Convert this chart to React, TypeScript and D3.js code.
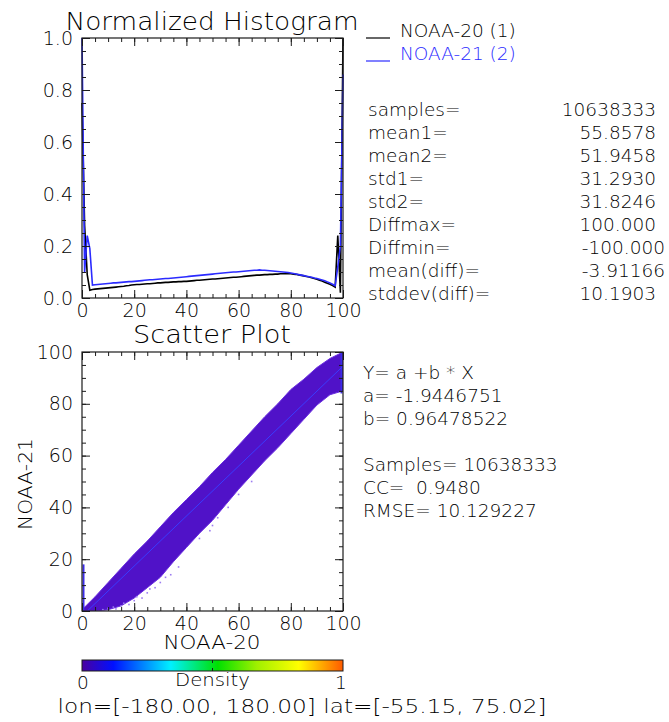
import React, { useEffect, useRef } from 'react';
import * as d3 from 'd3';

// Normalized histogram, one value per 1% bin (0..100)
const noaa20Hist = [
  0.75, 0.28, 0.09, 0.03, 0.033, 0.034, 0.035, 0.036, 0.037, 0.038,
  0.039, 0.040, 0.041, 0.042, 0.043, 0.044, 0.045, 0.047, 0.048, 0.050,
  0.051, 0.052, 0.052, 0.053, 0.054, 0.055, 0.055, 0.056, 0.057, 0.058,
  0.058, 0.059, 0.060, 0.060, 0.061, 0.062, 0.062, 0.063, 0.063, 0.064,
  0.064, 0.065, 0.066, 0.067, 0.068, 0.068, 0.069, 0.070, 0.071, 0.072,
  0.073, 0.073, 0.074, 0.075, 0.076, 0.077, 0.078, 0.079, 0.080, 0.080,
  0.081, 0.082, 0.083, 0.084, 0.085, 0.086, 0.087, 0.088, 0.088, 0.089,
  0.090, 0.090, 0.091, 0.091, 0.092, 0.092, 0.093, 0.093, 0.093, 0.093,
  0.093, 0.092, 0.091, 0.089, 0.087, 0.085, 0.083, 0.081, 0.078, 0.075,
  0.072, 0.068, 0.065, 0.061, 0.057, 0.053, 0.048, 0.042, 0.24, 0.02,
  1.0
];
const noaa21Hist = [
  1.0, 0.10, 0.24, 0.19, 0.050, 0.051, 0.052, 0.053, 0.054, 0.055,
  0.056, 0.057, 0.058, 0.058, 0.059, 0.060, 0.061, 0.062, 0.063, 0.063,
  0.064, 0.065, 0.066, 0.067, 0.068, 0.069, 0.070, 0.070, 0.071, 0.072,
  0.073, 0.074, 0.075, 0.075, 0.076, 0.077, 0.078, 0.079, 0.080, 0.081,
  0.082, 0.083, 0.084, 0.085, 0.086, 0.087, 0.088, 0.089, 0.090, 0.091,
  0.092, 0.093, 0.094, 0.095, 0.096, 0.097, 0.098, 0.099, 0.100, 0.100,
  0.101, 0.102, 0.103, 0.104, 0.105, 0.106, 0.107, 0.107, 0.108, 0.107,
  0.107, 0.106, 0.105, 0.104, 0.103, 0.102, 0.101, 0.100, 0.099, 0.098,
  0.096, 0.094, 0.092, 0.090, 0.088, 0.086, 0.084, 0.082, 0.080, 0.077,
  0.075, 0.072, 0.069, 0.066, 0.062, 0.058, 0.053, 0.047, 0.12, 0.20,
  0.86
];

const legendLabels = ['NOAA-20 (1)', 'NOAA-21 (2)'];
const legendColors = ['#000000', '#2b2bff'];

const statLabels = ['samples=', 'mean1=', 'mean2=', 'std1=', 'std2=', 'Diffmax=', 'Diffmin=', 'mean(diff)=', 'stddev(diff)='];
const statValues = ['10638333', '55.8578', '51.9458', '31.2930', '31.8246', '100.000', '-100.000', '-3.91166', '10.1903'];

// scatter density band (edges of the point cloud)
const bandX = [0, 5, 10, 15, 20, 25, 30, 35, 40, 45, 50, 55, 60, 65, 70, 75, 80, 85, 90, 95, 100];
const bandUpper = [0.5, 5.5, 11, 16.5, 22, 27, 32.5, 38, 43, 48, 53.5, 58.5, 64, 69.5, 75, 80, 85.5, 89.5, 94, 97.5, 100];
const bandLower = [0, 0, 0.5, 2, 5, 9, 13, 19, 24.5, 30, 35, 41, 47, 52.5, 58, 63, 68.5, 74, 79.5, 83.5, 85];
const outlierX = [8, 10, 12, 13, 15, 16, 18, 20, 21, 23, 25, 26, 28, 30, 32, 34, 37, 45, 49, 50, 52, 56, 60, 65];
const outlierY = [0.5, 1, 1.5, 0.8, 2, 3, 2.5, 4, 5.5, 5, 7, 8.5, 9, 11, 13, 14, 17, 28, 31, 33, 36, 40, 45, 50];
// points piled on the frame edges (x=0 and x=100 columns)
const edgeX = [0, 100];
const edgeFrom = [0, 84];
const edgeTo = [18, 100];

const fitA = -1.9446751;
const fitB = 0.96478522;
const fitLabels = ['Y= a +b * X', 'a= -1.9446751', 'b= 0.96478522', '', 'Samples= 10638333', 'CC=  0.9480', 'RMSE= 10.129227'];

const densityStops = [0, 0.12, 0.34, 0.52, 0.67, 0.83, 1];
const densityColors = ['#4a00a0', '#0010ff', '#00f0ff', '#00e000', '#a0f000', '#ffff00', '#ff5a00'];

const lonLatLabel = 'lon=[-180.00, 180.00] lat=[-55.15, 75.02]';

const font = '"DejaVu Sans", sans-serif';
const weight = 300;
const ink = '#000000';

function frame(g: any, x: any, y: any, xMajor: number[], xMinor: number[], yMajor: number[], yMinor: number[], yFmt: (d: number) => string) {
  const [x0, x1] = x.range();
  const [y0, y1] = y.range();
  const style = (sel: any) => {
    sel.select('.domain').remove();
    sel.selectAll('line').attr('stroke', '#1c1c1c').attr('stroke-width', 1);
    sel.selectAll('text').attr('font-family', font).attr('font-weight', weight)
      .attr('font-size', 19).attr('fill', ink);
  };
  // bottom with labels
  g.append('g').attr('transform', `translate(0,${y0})`)
    .call(d3.axisBottom(x).tickValues(xMajor).tickSize(-8).tickSizeOuter(0).tickPadding(6))
    .call(style);
  g.append('g').attr('transform', `translate(0,${y0})`)
    .call(d3.axisBottom(x).tickValues(xMinor).tickSize(-4).tickSizeOuter(0).tickFormat(() => ''))
    .call(style);
  // top
  g.append('g').attr('transform', `translate(0,${y1})`)
    .call(d3.axisTop(x).tickValues(xMajor).tickSize(-8).tickSizeOuter(0).tickFormat(() => ''))
    .call(style);
  g.append('g').attr('transform', `translate(0,${y1})`)
    .call(d3.axisTop(x).tickValues(xMinor).tickSize(-4).tickSizeOuter(0).tickFormat(() => ''))
    .call(style);
  // left with labels
  g.append('g').attr('transform', `translate(${x0},0)`)
    .call(d3.axisLeft(y).tickValues(yMajor).tickSize(-8).tickSizeOuter(0).tickPadding(9).tickFormat(yFmt as any))
    .call(style);
  g.append('g').attr('transform', `translate(${x0},0)`)
    .call(d3.axisLeft(y).tickValues(yMinor).tickSize(-4).tickSizeOuter(0).tickFormat(() => ''))
    .call(style);
  // right
  g.append('g').attr('transform', `translate(${x1},0)`)
    .call(d3.axisRight(y).tickValues(yMajor).tickSize(-8).tickSizeOuter(0).tickFormat(() => ''))
    .call(style);
  g.append('g').attr('transform', `translate(${x1},0)`)
    .call(d3.axisRight(y).tickValues(yMinor).tickSize(-4).tickSizeOuter(0).tickFormat(() => ''))
    .call(style);
  g.append('rect')
    .attr('x', x0).attr('y', y1)
    .attr('width', x1 - x0).attr('height', y0 - y1)
    .attr('fill', 'none').attr('stroke', '#1c1c1c').attr('stroke-width', 1.2);
}

const App: React.FC = () => {
  const svgRef = useRef<SVGSVGElement>(null);

  useEffect(() => {
    if (!svgRef.current) return;
    const svg = d3.select(svgRef.current);
    svg.selectAll('*').remove();
    const defs = svg.append('defs');

    const text = (g: any, str: string, x: number, y: number, size: number, opts: any = {}) => {
      const t = g.append('text')
        .attr('x', x).attr('y', y)
        .attr('font-family', font).attr('font-size', size)
        .attr('font-weight', weight)
        .attr('fill', opts.fill || ink)
        .attr('text-anchor', opts.anchor || 'start')
        .style('white-space', 'pre')
        .text(str);
      if (opts.len) t.attr('textLength', opts.len).attr('lengthAdjust', 'spacingAndGlyphs');
      if (opts.rotate) t.attr('transform', `rotate(${opts.rotate},${x},${y})`);
      return t;
    };

    // ---------- histogram ----------
    const hx = d3.scaleLinear().domain([0, 100]).range([82, 343]);
    const hy = d3.scaleLinear().domain([0, 1]).range([298, 38]);
    const hist = svg.append('g');

    const line = d3.line<number>().x((_, i) => hx(i)).y(d => hy(d));
    hist.append('path').datum(noaa20Hist)
      .attr('d', line).attr('fill', 'none')
      .attr('stroke', legendColors[0]).attr('stroke-width', 1.6);
    hist.append('path').datum(noaa21Hist)
      .attr('d', line).attr('fill', 'none')
      .attr('stroke', legendColors[1]).attr('stroke-width', 1.6);

    frame(hist, hx, hy,
      [0, 20, 40, 60, 80, 100], d3.range(0, 101, 5),
      [0, 0.2, 0.4, 0.6, 0.8, 1.0], d3.range(0, 1.001, 0.05),
      d3.format('.1f'));

    text(hist, 'Normalized Histogram', 212, 30, 25, { anchor: 'middle', len: 293 });

    // legend
    legendLabels.forEach((lab, i) => {
      const y = 38 + i * 23;
      hist.append('line').attr('x1', 366).attr('x2', 390).attr('y1', y).attr('y2', y)
        .attr('stroke', legendColors[i]).attr('stroke-width', 1.2);
      text(hist, lab, 400, y - 1, 18.5, { fill: legendColors[i] });
    });

    // statistics
    statLabels.forEach((lab, i) => {
      const y = 115.5 + i * 23.1;
      text(hist, lab, 368, y, 18.5);
      const v = statValues[i];
      text(hist, v, v.startsWith('-') ? 665 : 656, y, 18.5, { anchor: 'end' });
    });

    // ---------- scatter ----------
    const sx = d3.scaleLinear().domain([0, 100]).range([82, 343]);
    const sy = d3.scaleLinear().domain([0, 100]).range([611, 352]);
    const scat = svg.append('g');

    defs.append('clipPath').attr('id', 'scatClip')
      .append('rect').attr('x', 82).attr('y', 352).attr('width', 261).attr('height', 259);

    const band = bandX.map((x, i) => ({ x, lo: bandLower[i], hi: bandUpper[i] }));
    const area = d3.area<{ x: number; lo: number; hi: number }>()
      .x(d => sx(d.x)).y0(d => sy(d.lo)).y1(d => sy(d.hi));
    const pts = scat.append('g').attr('clip-path', 'url(#scatClip)');
    pts.append('path').datum(band).attr('d', area)
      .attr('fill', '#5012c8').attr('stroke', '#6a2ee0').attr('stroke-width', 1);

    pts.selectAll('rect.out').data(outlierX).enter().append('rect')
      .attr('class', 'out')
      .attr('x', d => sx(d) - 0.8)
      .attr('y', (_, i) => sy(outlierY[i]) - 0.8)
      .attr('width', 1.6).attr('height', 1.6)
      .attr('fill', '#9c7cf0');

    pts.selectAll('line.edge').data(edgeX).enter().append('line')
      .attr('class', 'edge')
      .attr('x1', d => sx(d) + (d === 0 ? 1.5 : -1.5)).attr('x2', d => sx(d) + (d === 0 ? 1.5 : -1.5))
      .attr('y1', (_, i) => sy(edgeFrom[i])).attr('y2', (_, i) => sy(edgeTo[i]))
      .attr('stroke', '#3a2ce8').attr('stroke-width', 2);

    pts.append('line')
      .attr('x1', sx(0)).attr('y1', sy(fitA))
      .attr('x2', sx(100)).attr('y2', sy(fitA + fitB * 100))
      .attr('stroke', '#3a3cff').attr('stroke-width', 1);

    frame(scat, sx, sy,
      [0, 20, 40, 60, 80, 100], d3.range(0, 101, 5),
      [0, 20, 40, 60, 80, 100], d3.range(0, 101, 5),
      d3.format('d'));

    text(scat, 'Scatter Plot', 212, 343, 24.5, { anchor: 'middle', len: 158 });
    text(scat, 'NOAA-20', 212, 649, 20, { anchor: 'middle', len: 97 });
    text(scat, 'NOAA-21', 32, 484, 20, { anchor: 'middle', len: 92, rotate: -90 });

    fitLabels.forEach((lab, i) => {
      if (!lab) return;
      text(scat, lab, 363, 378.5 + i * 23, 18.5);
    });

    // ---------- colour bar ----------
    const cb = svg.append('g');
    const cx = d3.scaleLinear().domain([0, 1]).range([82, 343]);
    const grad = defs.append('linearGradient').attr('id', 'densGrad');
    densityStops.forEach((s, i) => {
      grad.append('stop').attr('offset', `${s * 100}%`).attr('stop-color', densityColors[i]);
    });
    cb.append('rect').attr('x', cx(0)).attr('y', 660).attr('width', cx(1) - cx(0)).attr('height', 11)
      .attr('fill', 'url(#densGrad)').attr('stroke', '#1c1c1c').attr('stroke-width', 1);
    cb.append('line').attr('x1', cx(0.5)).attr('x2', cx(0.5)).attr('y1', 660).attr('y2', 663).attr('stroke', '#1c1c1c');
    cb.append('line').attr('x1', cx(0.5)).attr('x2', cx(0.5)).attr('y1', 668).attr('y2', 671).attr('stroke', '#1c1c1c');
    text(cb, '0', cx(0) + 1, 689, 18.5, { anchor: 'middle' });
    text(cb, '1', cx(1) - 2, 689, 18.5, { anchor: 'middle' });
    text(cb, 'Density', cx(0.5), 686, 18.5, { anchor: 'middle', len: 75 });

    text(svg, lonLatLabel, 302, 713, 19.5, { anchor: 'middle', len: 489 });
  }, []);

  return (
    <svg ref={svgRef} width={669} height={722}
      style={{ position: 'absolute', left: 0, top: 0, background: '#fff' }} />
  );
};

export default App;
